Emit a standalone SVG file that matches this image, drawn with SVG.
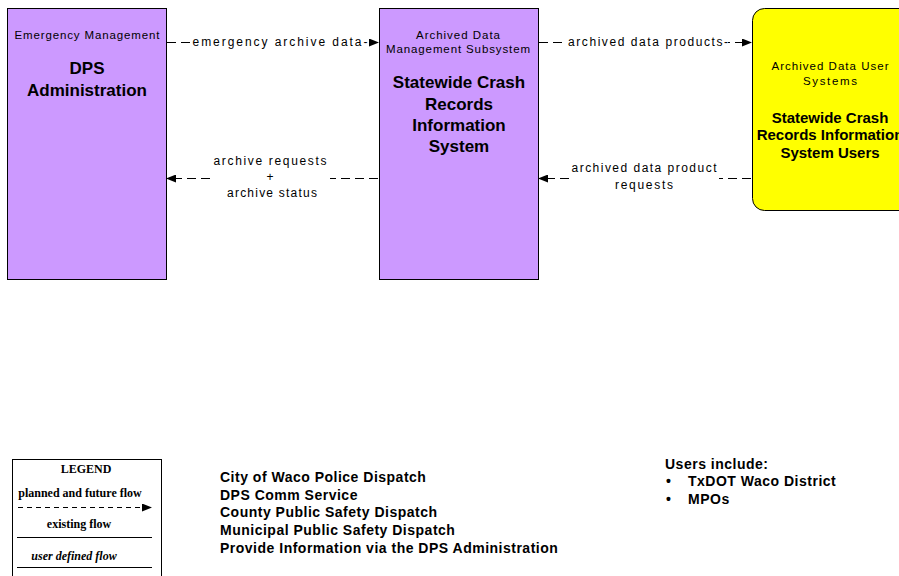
<svg xmlns="http://www.w3.org/2000/svg" width="899" height="576" viewBox="0 0 899 576">
<defs>
<marker id="ah" markerWidth="10" markerHeight="8" refX="9" refY="4" orient="auto" markerUnits="userSpaceOnUse">
<path d="M0,0 L10,4 L0,8 Z" fill="#000"/>
</marker>
<style>
.box{fill:#cc99ff;stroke:#000;stroke-width:1}
.ybox{fill:#ffff00;stroke:#000;stroke-width:1}
.sm{font-family:"Liberation Sans",Arial,sans-serif;font-size:11.5px;fill:#000;text-anchor:middle}
.big{font-family:"Liberation Sans",Arial,sans-serif;font-size:17px;font-weight:bold;fill:#000;text-anchor:middle}
.ybig{font-family:"Liberation Sans",Arial,sans-serif;font-size:15px;font-weight:bold;fill:#000;text-anchor:middle}
.flow{stroke:#000;stroke-width:1;stroke-dasharray:9 5;fill:none}
.lbl{font-family:"Liberation Sans",Arial,sans-serif;font-size:12px;fill:#000;text-anchor:middle}
.bg{fill:#fff}
.list{font-family:"Liberation Sans",Arial,sans-serif;font-size:14px;font-weight:bold;fill:#000;letter-spacing:0.5px}
.leg{font-family:"Liberation Serif","Times New Roman",serif;font-size:12px;font-weight:bold;fill:#000;text-anchor:middle}
</style>
</defs>
<rect width="899" height="576" fill="#fff"/>

<g id="dps">
<rect class="box" x="7.5" y="8.5" width="159" height="271"/>
<text class="sm" x="87" y="39" textLength="145" lengthAdjust="spacing">Emergency Management</text>
<text class="big" x="87" y="74">DPS</text>
<text class="big" x="87" y="96">Administration</text>
</g>

<g id="scris">
<rect class="box" x="379.5" y="8.5" width="159" height="271"/>
<text class="sm" x="458" y="39" textLength="84" lengthAdjust="spacing">Archived Data</text>
<text class="sm" x="458" y="53" textLength="144" lengthAdjust="spacing">Management Subsystem</text>
<text class="big" x="459" y="88">Statewide Crash</text>
<text class="big" x="459" y="110">Records</text>
<text class="big" x="459" y="131">Information</text>
<text class="big" x="459" y="152">System</text>
</g>

<g id="users">
<rect class="ybox" x="752.5" y="8.5" width="170" height="202" rx="12" ry="12"/>
<text class="sm" x="830" y="70" textLength="117" lengthAdjust="spacing">Archived Data User</text>
<text class="sm" x="830" y="85" textLength="54" lengthAdjust="spacing">Systems</text>
<text class="ybig" x="830" y="123">Statewide Crash</text>
<text class="ybig" x="830" y="140">Records Information</text>
<text class="ybig" x="830" y="158">System Users</text>
</g>

<g id="connectors">
<line class="flow" x1="167" y1="42.5" x2="378" y2="42.5" marker-end="url(#ah)"/>
<rect class="bg" x="190" y="34" width="179" height="15"/>
<text class="lbl" x="280" y="46" textLength="175" lengthAdjust="spacing">emergency archive data-</text>

<line class="flow" x1="378" y1="178.5" x2="167" y2="178.5" marker-end="url(#ah)"/>
<rect class="bg" x="212" y="152" width="118" height="48"/>
<text class="lbl" x="270" y="165" textLength="113" lengthAdjust="spacing">archive requests</text>
<text class="lbl" x="270" y="181">+</text>
<text class="lbl" x="272" y="197" textLength="90" lengthAdjust="spacing">archive status</text>

<line class="flow" x1="539" y1="42.5" x2="751" y2="42.5" marker-end="url(#ah)"/>
<rect class="bg" x="565" y="34" width="163" height="15"/>
<text class="lbl" x="648" y="46" textLength="160" lengthAdjust="spacing">archived data products-</text>

<line class="flow" x1="751" y1="178.5" x2="539" y2="178.5" marker-end="url(#ah)"/>
<rect class="bg" x="569" y="160" width="150" height="32"/>
<text class="lbl" x="644" y="172" textLength="145" lengthAdjust="spacing">archived data product</text>
<text class="lbl" x="644" y="189" textLength="58" lengthAdjust="spacing">requests</text>
</g>

<g id="legend">
<rect x="12.5" y="459.5" width="149" height="130" fill="#fff" stroke="#000" stroke-width="1"/>
<text class="leg" x="86" y="473">LEGEND</text>
<text class="leg" x="80" y="497">planned and future flow</text>
<line x1="18" y1="507.5" x2="151" y2="507.5" stroke="#000" stroke-width="1" stroke-dasharray="5 4" marker-end="url(#ah)"/>
<text class="leg" x="79" y="528">existing flow</text>
<line x1="17" y1="537.5" x2="152" y2="537.5" stroke="#000" stroke-width="1"/>
<text class="leg" x="74" y="560" font-style="italic">user defined flow</text>
<line x1="17" y1="567.5" x2="152" y2="567.5" stroke="#000" stroke-width="1"/>
</g>

<g id="agencies">
<text class="list" x="220" y="482">City of Waco Police Dispatch</text>
<text class="list" x="220" y="500">DPS Comm Service</text>
<text class="list" x="220" y="517">County Public Safety Dispatch</text>
<text class="list" x="220" y="535">Municipal Public Safety Dispatch</text>
<text class="list" x="220" y="553">Provide Information via the DPS Administration</text>
</g>

<g id="userlist">
<text class="list" x="665" y="469">Users include:</text>
<text class="list" x="666" y="486">•</text>
<text class="list" x="688" y="486">TxDOT Waco District</text>
<text class="list" x="666" y="504">•</text>
<text class="list" x="688" y="504">MPOs</text>
</g>
</svg>
